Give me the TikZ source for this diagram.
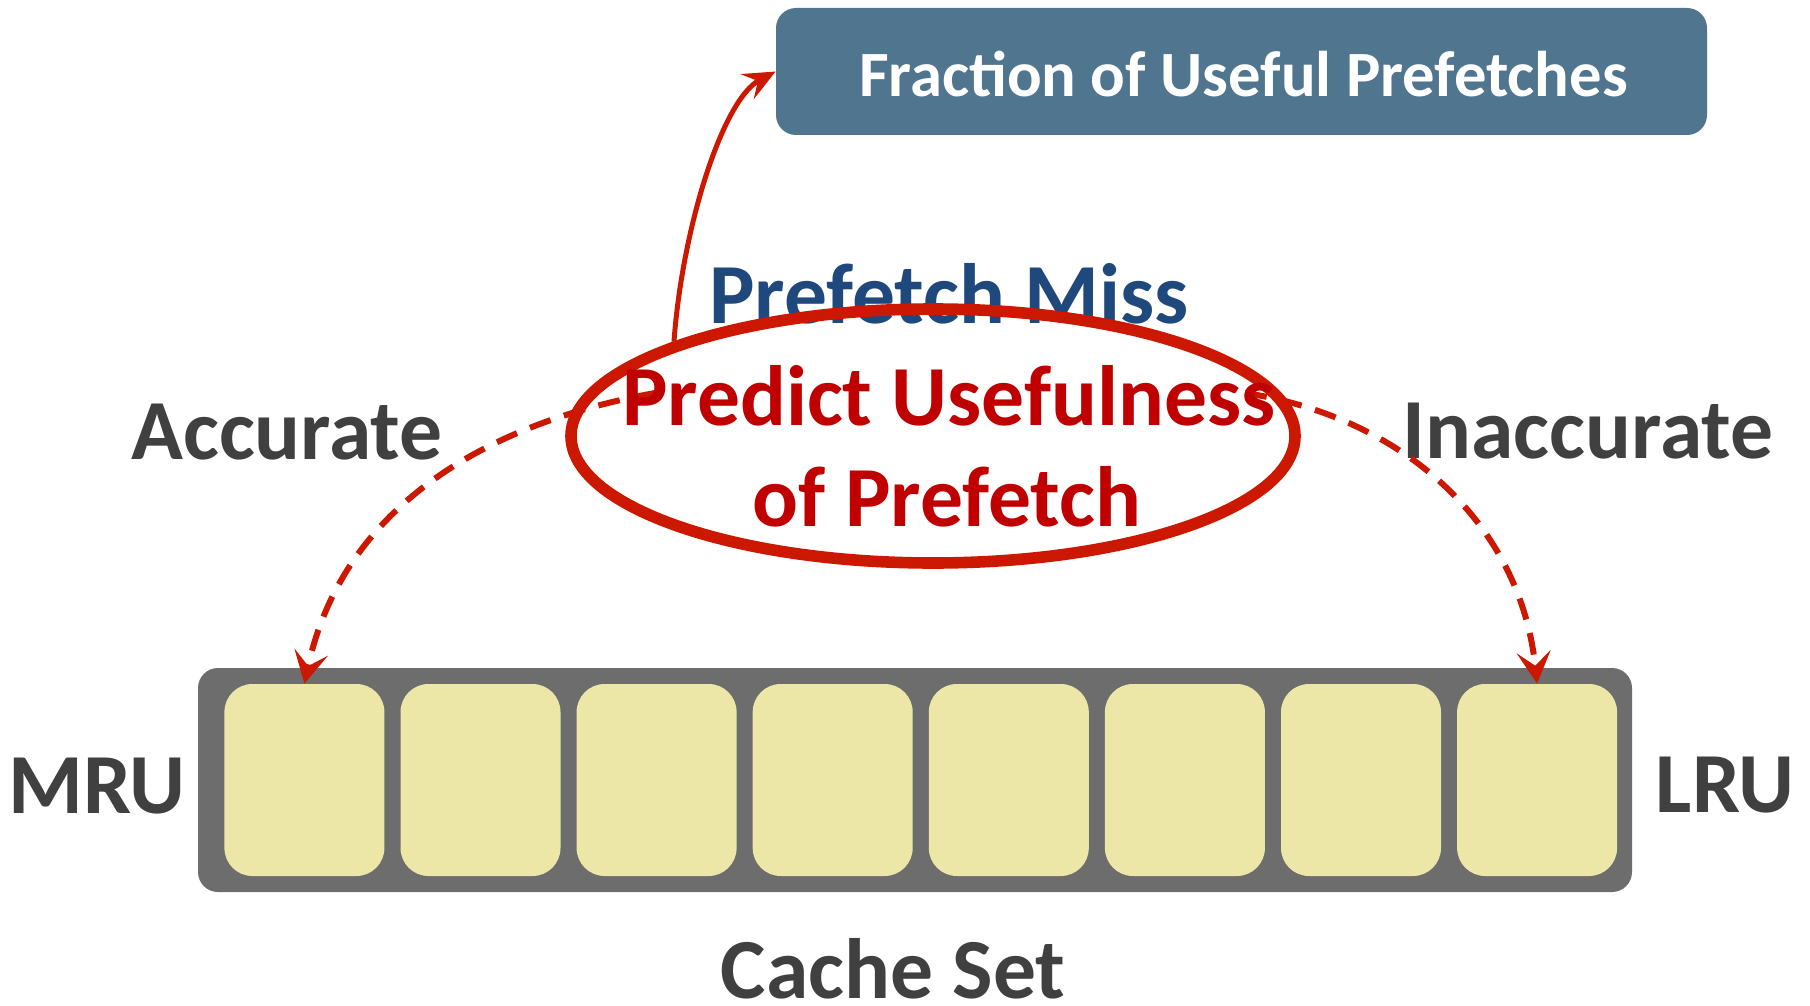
\documentclass[tikz,border=0pt]{standalone}
\usepackage{fontspec}
\setmainfont{Carlito}
\usetikzlibrary{arrows.meta,shapes.geometric}
\definecolor{boxblue}{RGB}{80,117,142}
\definecolor{missblue}{RGB}{31,73,125}
\definecolor{arrowred}{RGB}{204,24,0}
\definecolor{textred}{RGB}{192,0,0}
\definecolor{darkgray}{RGB}{64,64,64}
\definecolor{setgray}{RGB}{109,109,109}
\definecolor{slotfill}{RGB}{237,231,167}
\tikzset{
  bigtext/.style={font=\fontsize{42.8}{50}\selectfont\bfseries, inner sep=0pt, anchor=base},
  topbox/.style={rectangle, rounded corners=10pt, fill=boxblue, draw=none,
    minimum width=465.5pt, minimum height=63.5pt, inner sep=0pt},
  slotbox/.style={rectangle, rounded corners=14pt, fill=slotfill, draw=none,
    minimum width=80pt, minimum height=96pt, inner sep=0pt},
  setbox/.style={rectangle, rounded corners=10pt, fill=setgray, draw=none,
    minimum width=717pt, minimum height=112pt, inner sep=0pt},
  predict/.style={ellipse, draw=arrowred, line width=5.8pt, minimum width=362pt,
    minimum height=127pt, inner sep=0pt},
  dasharrow/.style={draw=arrowred, line width=3pt, dash pattern=on 11pt off 7pt,
    -{Stealth[length=16pt, width=17pt, inset=7pt]}},
  solidarrow/.style={draw=arrowred, line width=2.5pt,
    -{Stealth[length=16pt, width=14pt, inset=6pt]}},
}
\begin{document}
\begin{tikzpicture}[x=0.5pt, y=-0.5pt]
\useasboundingbox (0,0) rectangle (1810,1006);

% top box
\node[topbox] (frac) at (1241.5,71.5) {};
\node[font=\fontsize{32.3}{38}\selectfont\bfseries, text=white, inner sep=0pt, anchor=base]
  (fractext) at (1243.5,97) {Fraction of Useful Prefetches};

% cache set
\node[setbox] (set) at (915,780) {};
\foreach \i in {1,...,8} {
  \node[slotbox] (s\i) at ({304.4+176.1*(\i-1)},780) {};
}

% labels
\node[bigtext, text=darkgray] (acc) at (287,459) {Accurate};
\node[bigtext, text=darkgray] (inacc) at (1588,458) {Inaccurate};
\node[bigtext, text=darkgray] (mru) at (97,813) {MRU};
\node[bigtext, text=darkgray] (lru) at (1725,812) {LRU};
\node[bigtext, text=darkgray, text depth=0pt] (cset) at (893,998) {Cache Set};

% prefetch miss
\node[bigtext, text=missblue] (miss) at (949,323) {Prefetch Miss};

% dashed arrows
\coordinate (dl) at (655,393);
\coordinate (dr) at (1245,393);
\draw[dasharrow] (dl) .. controls (462,428) and (339,523) .. (s1.north);
\draw[dasharrow] (dr) .. controls (1402,417) and (1520,522) .. (s8.north);

% ellipse
\node[predict] (ell) at (933,436) {};
\node[bigtext, text=textred] (pred1) at (949,425) {Predict Usefulness};
\node[bigtext, text=textred] (pred2) at (947,526) {of Prefetch};

% solid arrow
\draw[solidarrow] (ell.160) .. controls (682,230) and (722,100) .. (frac.west);
\end{tikzpicture}
\end{document}
